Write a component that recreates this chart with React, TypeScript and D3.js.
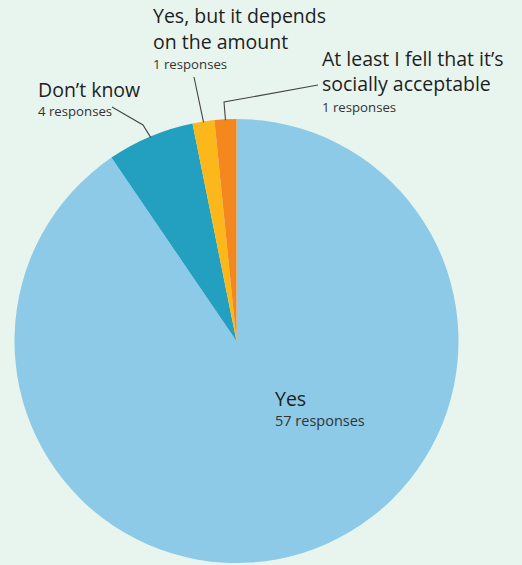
import React from "react";
import * as d3 from "d3";

const categories = [
  "Yes",
  "Don\u2019t know",
  "Yes, but it depends on the amount",
  "At least I fell that it\u2019s socially acceptable",
];
const values = [57, 4, 1, 1];
const colors = ["#8ccae8", "#239fbf", "#fcb71a", "#f5871f"];
const labelLines = [
  ["Yes"],
  ["Don\u2019t know"],
  ["Yes, but it depends", "on the amount"],
  ["At least I fell that it\u2019s", "socially acceptable"],
];
const subLabels = values.map((v) => `${v} responses`);

const W = 522;
const H = 565;
const cx = 236.5;
const cy = 341;
const R = 222;

const labelPos = [
  { x: 275, y: 406, gap: 0, sub: 426, subSize: 14.5 },
  { x: 38, y: 96.5, gap: 0, sub: 115.5, subSize: 13.2 },
  { x: 153, y: 23, gap: 26, sub: 68.5, subSize: 13.2 },
  { x: 322, y: 66, gap: 24.5, sub: 111.5, subSize: 13.2 },
];
const leaders: (number[][] | null)[] = [
  null,
  [
    [112, 107],
    [143, 125],
  ],
  [[194, 77]],
  [
    [318, 85],
    [224, 102],
  ],
];

export default function App() {
  const pie = d3
    .pie<number>()
    .sort(null)
    .value((d) => d)
    .startAngle(0)
    .endAngle(2 * Math.PI);
  const arcs = pie(values);
  const arc = d3.arc<d3.PieArcDatum<number>>().innerRadius(0).outerRadius(R);

  return (
    <svg
      width={W}
      height={H}
      style={{ position: "absolute", left: 0, top: 0, background: "#e8f5ee" }}
    >
      <rect x={0} y={0} width={W} height={H} fill="#e8f5ee" />
      <g transform={`translate(${cx},${cy})`}>
        {arcs.map((a, i) => (
          <path key={i} d={arc(a) || ""} fill={colors[i]} />
        ))}
      </g>
      {arcs.map((a, i) => {
        const pts = leaders[i];
        if (!pts) return null;
        const mid = (a.startAngle + a.endAngle) / 2;
        const rr = R - 1;
        const end = [cx + rr * Math.sin(mid), cy - rr * Math.cos(mid)];
        const all = [...pts, end];
        const line = d3.line()(all as [number, number][]);
        return (
          <path
            key={"l" + i}
            d={line || ""}
            fill="none"
            stroke="#444"
            strokeWidth={1.1}
          />
        );
      })}
      {labelPos.map((p, i) => (
        <g key={"t" + i} fontFamily="'Open Sans', Lato, sans-serif" fill="#1e1e1e">
          {labelLines[i].map((ln, j) => (
            <text key={j} x={p.x} y={p.y + j * p.gap} fontSize={19.5}>
              {ln}
            </text>
          ))}
          <text x={p.x} y={p.sub} fontSize={p.subSize} fill="#333">
            {subLabels[i]}
          </text>
        </g>
      ))}
    </svg>
  );
}
